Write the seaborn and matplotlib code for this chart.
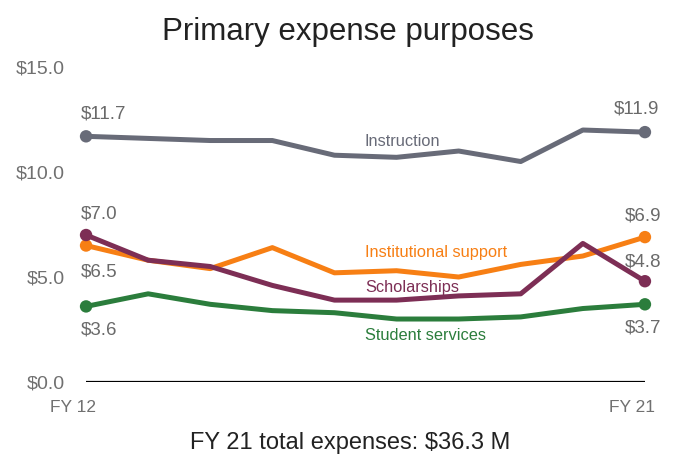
import matplotlib
matplotlib.use("Agg")
import matplotlib.pyplot as plt
import matplotlib.transforms as mtransforms
import seaborn as sns
import pandas as pd

years = ["FY 12", "FY 13", "FY 14", "FY 15", "FY 16", "FY 17", "FY 18", "FY 19", "FY 20", "FY 21"]
instruction = [11.7, 11.6, 11.5, 11.5, 10.8, 10.7, 11.0, 10.5, 12.0, 11.9]
institutional_support = [6.5, 5.8, 5.4, 6.4, 5.2, 5.3, 5.0, 5.6, 6.0, 6.9]
scholarships = [7.0, 5.8, 5.5, 4.6, 3.9, 3.9, 4.1, 4.2, 6.6, 4.8]
student_services = [3.6, 4.2, 3.7, 3.4, 3.3, 3.0, 3.0, 3.1, 3.5, 3.7]

series_names = ["Instruction", "Institutional support", "Scholarships", "Student services"]
series_values = [instruction, institutional_support, scholarships, student_services]
colors = ["#686b78", "#f77f14", "#7d2e55", "#2b7d3c"]
yticks = [0, 5, 10, 15]
ytick_labels = ["$0.0", "$5.0", "$10.0", "$15.0"]

rows = []
for name, vals in zip(series_names, series_values):
    for i, v in enumerate(vals):
        rows.append({"idx": i, "year": years[i], "series": name, "value": v})
df = pd.DataFrame(rows)

sns.set_theme(style="white")
plt.rcParams["font.family"] = ["Liberation Sans", "DejaVu Sans"]

fig = plt.figure(figsize=(6.86, 4.55), dpi=100)
ax = fig.add_axes([0.0983, 0.1604, 0.869, 0.6923])

palette = dict(zip(series_names, colors))
sns.lineplot(data=df, x="idx", y="value", hue="series", palette=palette,
             linewidth=3.6, legend=False, ax=ax, solid_capstyle="butt")
ends = df[df["idx"].isin([0, len(years) - 1])]
sns.scatterplot(data=ends, x="idx", y="value", hue="series", palette=palette,
                s=80, edgecolor="none", legend=False, ax=ax, zorder=5, clip_on=False)

ax.set_xlim(-0.3, 9.3)
ax.set_ylim(0, 15)
ax.hlines(0, 0, len(years) - 1, color="black", linewidth=1.6, zorder=1)

for s in ax.spines.values():
    s.set_visible(False)
ax.set_yticks(yticks)
ax.set_yticklabels(ytick_labels)
ax.set_xticks([0, len(years) - 1])
ax.set_xticklabels([years[0], years[-1]])
ax.tick_params(axis="both", length=0, labelcolor="#707070")
ax.tick_params(axis="y", pad=2, labelsize=14)
ax.tick_params(axis="x", pad=13, labelsize=12.5)
for lab in ax.get_xticklabels():
    lab.set_transform(lab.get_transform() + mtransforms.ScaledTranslation(-13/100, 0, fig.dpi_scale_trans))
ax.set_xlabel("")
ax.set_ylabel("")

# value labels at ends (offsets in points)
first_offsets = [(-4, 16), (-4, -19), (-4, 15), (-4, -17)]
last_offsets = [(10, 17), (12, 15), (12, 14), (12, -17)]
label_color = "#6a6a6a"
for vals, fo, lo in zip(series_values, first_offsets, last_offsets):
    ax.annotate(f"${vals[0]:.1f}", (0, vals[0]), xytext=fo, textcoords="offset points",
                ha="left", va="center", fontsize=13.5, color=label_color)
    ax.annotate(f"${vals[-1]:.1f}", (len(years) - 1, vals[-1]), xytext=lo, textcoords="offset points",
                ha="right", va="center", fontsize=13.5, color=label_color)

# series name labels (left aligned)
name_pos = [(4.49, 11.45), (4.49, 6.15), (4.49, 4.5), (4.49, 2.22)]
for name, c, (x, y) in zip(series_names, colors, name_pos):
    ax.text(x, y, name, ha="left", va="center", fontsize=11.8, color=c)

fig.text(0.507, 0.930, "Primary expense purposes", ha="center", va="center",
         fontsize=22.5, color="#222222")
fig.text(0.51, 0.026, "FY 21 total expenses: $36.3 M", ha="center", va="center",
         fontsize=17, color="#222222")

fig.savefig("out.png", dpi=100)
